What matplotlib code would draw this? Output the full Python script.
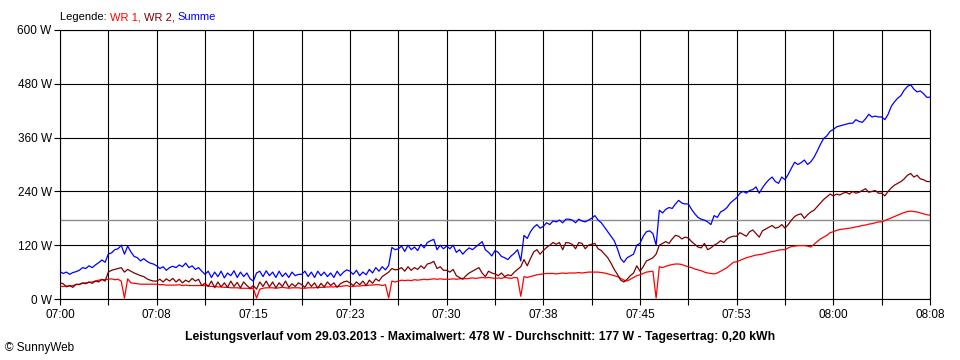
"""
SunnyWeb-Leistungsverlauf vom 29.03.2013 (07:00 - 08:08), WR 1, WR 2 und Summe.
Werte vom Bild abgelesen, 15-s-Raster (15 Werte pro Gitterfeld).
"""

import numpy as np
import matplotlib

matplotlib.use("Agg")
import matplotlib.pyplot as plt

plt.rcParams["font.family"] = ["Liberation Sans", "DejaVu Sans"]

# Zeitraster: Minuten ab 07:00, ein Wert alle 15 s
START_MIN = 0.0
STEP_MIN = 0.25

# WR 1 [W], eine Zeile pro Gitterfeld (3,75 min)
wr1 = [
    28, 28, 29, 29, 30, 32, 33, 35, 36, 37, 38, 40, 42, 43, 43,
    44, 45, 43, 44, 40, 2, 45, 36, 35, 34, 33, 33, 33, 33, 33,
    33, 32, 32, 31, 31, 31, 31, 32, 30, 31, 30, 30, 30, 30, 30,
    30, 29, 28, 28, 27, 27, 26, 26, 25, 25, 25, 24, 24, 24, 23,
    24, 2, 22, 24, 25, 25, 25, 24, 25, 26, 25, 24, 25, 25, 25,
    24, 24, 25, 25, 25, 26, 26, 26, 27, 27, 27, 28, 28, 29, 30,
    28, 28, 29, 29, 30, 30, 31, 31, 32, 32, 30, 32, 2, 40, 38,
    40, 42, 41, 42, 41, 43, 42, 43, 44, 43, 44, 45, 44, 45, 44,
    44, 44, 45, 44, 45, 46, 45, 46, 47, 46, 47, 48, 47, 48, 47,
    46, 47, 46, 48, 47, 46, 48, 47, 6, 50, 48, 50, 52, 54, 55,
    56, 57, 57, 57, 56, 57, 58, 57, 58, 58, 58, 59, 58, 59, 60,
    60, 60, 60, 59, 58, 56, 54, 52, 50, 46, 42, 40, 44, 48, 52,
    54, 57, 60, 61, 62, 2, 72, 70, 73, 75, 77, 78, 78, 77, 74,
    72, 70, 67, 65, 63, 60, 58, 57, 56, 58, 62, 66, 70, 76, 82,
    83, 86, 89, 92, 94, 96, 98, 99, 100, 102, 104, 106, 107, 109, 110,
    110, 114, 117, 118, 119, 119, 119, 118, 116, 122, 128, 134, 138, 142, 148,
    150, 153, 155, 156, 157, 158, 159, 161, 162, 164, 165, 167, 168, 170, 172,
    172, 175, 178, 181, 184, 187, 190, 193, 195, 196, 195, 194, 192, 190, 188,
    187,
]

# WR 2 [W]
wr2 = [
    36, 34, 27, 30, 26, 33, 32, 36, 34, 38, 35, 40, 38, 44, 40,
    60, 64, 66, 68, 70, 60, 66, 62, 58, 55, 52, 50, 45, 42, 40,
    40, 44, 38, 45, 40, 46, 38, 44, 36, 42, 38, 46, 40, 44, 30,
    35, 28, 40, 25, 38, 27, 36, 26, 40, 28, 37, 25, 38, 30, 24,
    30, 22, 38, 28, 40, 27, 38, 25, 36, 28, 40, 26, 34, 28, 36,
    32, 26, 38, 28, 36, 24, 35, 27, 38, 30, 36, 26, 34, 38, 40,
    36, 30, 38, 32, 40, 30, 42, 35, 45, 40, 50, 55, 60, 68, 65,
    66, 70, 62, 72, 64, 70, 66, 74, 68, 78, 80, 84, 68, 72, 64,
    64, 60, 66, 52, 48, 44, 52, 58, 62, 66, 70, 58, 50, 62, 58,
    56, 52, 58, 50, 54, 52, 60, 66, 72, 88, 74, 90, 105, 110, 100,
    108, 115, 120, 126, 122, 126, 110, 126, 125, 122, 112, 126, 124, 112, 120,
    122, 124, 112, 108, 100, 92, 80, 66, 55, 42, 38, 44, 52, 58, 74,
    62, 72, 85, 88, 92, 100, 120, 124, 128, 124, 134, 142, 140, 134, 138,
    136, 128, 122, 116, 114, 124, 110, 114, 120, 124, 130, 126, 134, 138, 140,
    140, 148, 144, 140, 150, 154, 146, 138, 152, 156, 160, 164, 158, 160, 166,
    158, 166, 176, 184, 188, 190, 180, 188, 194, 198, 206, 214, 222, 228, 234,
    230, 234, 232, 236, 238, 234, 240, 236, 238, 242, 246, 238, 240, 242, 236,
    236, 230, 240, 248, 254, 258, 262, 268, 276, 280, 272, 276, 268, 266, 262,
    262,
]

# Summe [W]
summe = [
    61, 57, 60, 55, 59, 61, 64, 70, 68, 74, 70, 76, 81, 87, 82,
    100, 103, 110, 112, 120, 100, 118, 105, 95, 92, 85, 90, 84, 80, 78,
    74, 68, 72, 64, 70, 73, 70, 76, 72, 80, 70, 74, 66, 70, 62,
    55, 62, 48, 60, 50, 62, 47, 58, 52, 63, 48, 60, 50, 58, 45,
    40, 58, 62, 50, 63, 52, 60, 48, 62, 50, 58, 48, 60, 52, 55,
    55, 62, 50, 60, 48, 62, 52, 60, 50, 58, 48, 62, 52, 60, 65,
    62, 55, 64, 52, 60, 54, 66, 58, 70, 62, 72, 65, 75, 115, 110,
    112, 118, 106, 120, 110, 116, 108, 122, 114, 126, 130, 133, 110, 120, 112,
    118, 112, 120, 104, 110, 100, 108, 114, 110, 116, 122, 128, 110, 104, 96,
    108, 104, 95, 92, 88, 96, 102, 110, 85, 142, 135, 150, 160, 166, 158,
    162, 170, 166, 174, 172, 176, 170, 178, 178, 176, 170, 178, 174, 172, 176,
    180, 186, 176, 170, 160, 150, 140, 130, 112, 90, 82, 92, 96, 100, 120,
    124, 140, 150, 152, 146, 120, 198, 192, 200, 204, 202, 212, 220, 214, 212,
    212, 200, 190, 182, 178, 176, 172, 166, 186, 182, 194, 198, 204, 214, 220,
    226, 236, 240, 236, 242, 244, 250, 236, 248, 258, 266, 272, 262, 258, 272,
    266, 278, 292, 305, 300, 304, 310, 300, 306, 316, 330, 345, 358, 364, 374,
    378, 384, 386, 388, 390, 392, 392, 400, 396, 394, 402, 412, 406, 408, 406,
    406, 400, 412, 430, 440, 448, 454, 466, 474, 478, 468, 462, 464, 458, 450,
    450,
]

DURCHSCHNITT = 177
Y_TICKS = [0, 120, 240, 360, 480, 600]
X_LABELS = ["07:00", "07:08", "07:15", "07:23", "07:30",
            "07:38", "07:45", "07:53", "08:00", "08:08"]
TITEL = ("Leistungsverlauf vom 29.03.2013 - Maximalwert: 478 W - "
         "Durchschnitt: 177 W - Tagesertrag: 0,20 kWh")

W, H = 960, 360
fig = plt.figure(figsize=(W / 100, H / 100), dpi=100)
ax = fig.add_axes([60 / W, (H - 299) / H, 870 / W, 269 / H])

t = START_MIN + STEP_MIN * np.arange(len(wr1))
ax.plot(t, wr1, color="#ff0000", lw=0.9, zorder=3)
ax.plot(t, wr2, color="#800000", lw=0.9, zorder=4)
ax.plot(t, summe, color="#0000ff", lw=0.9, zorder=5)
ax.axhline(DURCHSCHNITT, color="#8c8c8c", lw=1.0, zorder=2)

ax.set_xlim(0, 67.5)
ax.set_ylim(0, 600)
xt = np.arange(0, 67.51, 3.75)
ax.set_xticks(xt)
ax.set_xticklabels([X_LABELS[i // 2] if i % 2 == 0 else "" for i in range(len(xt))])
ax.set_yticks(Y_TICKS)
ax.set_yticklabels([f"{v} W" for v in Y_TICKS])
ax.tick_params(axis="x", length=4.5, width=0.8, pad=3, labelsize=8.5)
ax.tick_params(axis="y", length=4, width=0.8, pad=2, labelsize=8.5)
ax.grid(True, color="black", lw=0.8, zorder=1)
for s in ax.spines.values():
    s.set_linewidth(0.8)

# Legende als farbige Textstuecke
fig.canvas.draw()
r = fig.canvas.get_renderer()
x0 = 60
for txt, col in [("Legende: ", "black"), ("WR 1, ", "#ff0000"),
                 ("WR 2, ", "#800000"), ("Summe", "#0000ff")]:
    tt = fig.text(x0 / W, 1 - 17 / H, txt, color=col, fontsize=8, va="center")
    x0 = tt.get_window_extent(r).x1

fig.text(480 / W, 1 - 337 / H, TITEL, ha="center", va="center",
         fontsize=8.8, fontweight="bold")
fig.text(5 / W, 1 - 348 / H, "© SunnyWeb", fontsize=8.5, va="center")

fig.savefig("out.png", dpi=100)
